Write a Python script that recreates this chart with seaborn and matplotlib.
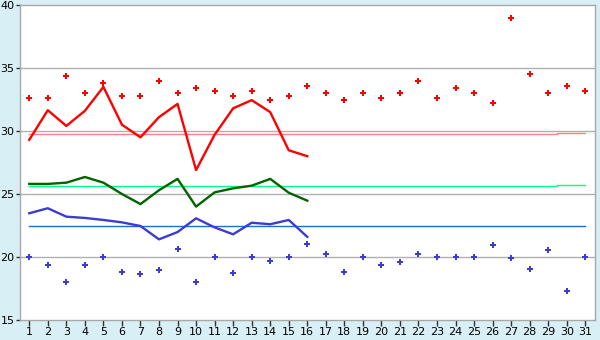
import matplotlib
matplotlib.use("Agg")
import matplotlib.pyplot as plt
import seaborn as sns
import pandas as pd
import numpy as np

days = list(range(1, 32))
tick_labels = [str(d) for d in days]

# scattered points (red = highs, blue = lows) for all 31 days
red_points = [32.6, 32.6, 34.4, 33.0, 33.8, 32.8, 32.8, 34.0, 33.0, 33.4,
              33.15, 32.75, 33.2, 32.5, 32.75, 33.55, 33.0, 32.5, 33.0, 32.6,
              33.0, 34.0, 32.6, 33.4, 33.0, 32.2, 39.0, 34.5, 33.0, 33.55, 33.2]
blue_points = [20.0, 19.35, 18.0, 19.4, 20.0, 18.8, 18.63, 18.94, 20.6, 18.0,
               20.0, 18.7, 20.0, 19.7, 20.0, 21.0, 20.2, 18.8, 20.0, 19.35,
               19.58, 20.2, 20.0, 20.0, 20.0, 20.93, 19.9, 19.02, 20.53, 17.28, 20.0]

# lines for days 1..16
line_days = list(range(1, 17))
red_line = [29.3, 31.65, 30.4, 31.6, 33.5, 30.5, 29.5, 31.1, 32.15, 26.9,
            29.7, 31.8, 32.45, 31.5, 28.47, 28.0]
green_line = [25.8, 25.8, 25.9, 26.35, 25.9, 25.0, 24.2, 25.3, 26.2, 24.0,
              25.13, 25.45, 25.66, 26.2, 25.1, 24.47]
blue_line = [23.47, 23.87, 23.2, 23.1, 22.94, 22.75, 22.46, 21.4, 21.98, 23.07,
             22.35, 21.8, 22.72, 22.6, 22.94, 21.6]

# normals (step lines)
red_normal = [29.8] * 29 + [29.88, 29.88]
green_normal = [25.63] * 29 + [25.7, 25.7]
blue_normal = [22.5] * 31

y_ticks = [15, 20, 25, 30, 35, 40]

bg = "#d9eff6"
fig = plt.figure(figsize=(6, 3.4), dpi=100, facecolor=bg)
ax = fig.add_axes([20/600, 20/340, (595.3-20)/600, 315/340])
ax.set_facecolor("white")

df_pts = pd.DataFrame({"day": days, "hi": red_points, "lo": blue_points,
                       "rn": red_normal, "gn": green_normal, "bn": blue_normal})
df_line = pd.DataFrame({"day": line_days, "r": red_line, "g": green_line, "b": blue_line})

for y in [20, 25, 30, 35]:
    ax.axhline(y, color="#b0b0b0", lw=1.0, zorder=0)

sns.lineplot(data=df_pts, x="day", y="rn", ax=ax, color="#ff8080", lw=1.0, drawstyle="steps-mid", zorder=1)
sns.lineplot(data=df_pts, x="day", y="gn", ax=ax, color="#00ff80", lw=1.0, drawstyle="steps-mid", zorder=1)
sns.lineplot(data=df_pts, x="day", y="bn", ax=ax, color="#1e6ed2", lw=1.0, drawstyle="steps-mid", zorder=1)

sns.lineplot(data=df_line, x="day", y="r", ax=ax, color="#ff0000", lw=1.7, zorder=3)
sns.lineplot(data=df_line, x="day", y="g", ax=ax, color="#006400", lw=1.7, zorder=3)
sns.lineplot(data=df_line, x="day", y="b", ax=ax, color="#3c3cd0", lw=1.7, zorder=3)

sns.scatterplot(data=df_pts, x="day", y="hi", ax=ax, color="#ff0000", marker="P", s=20, linewidth=0, zorder=4)
sns.scatterplot(data=df_pts, x="day", y="lo", ax=ax, color="#3c3cd0", marker="P", s=20, linewidth=0, zorder=4)

ax.set_xlim(0.5, 31.54)
ax.set_ylim(15, 40)
ax.set_xticks(days)
ax.set_xticklabels(tick_labels)
ax.set_yticks(y_ticks)
ax.set_xlabel("")
ax.set_ylabel("")
for s in ax.spines.values():
    s.set_color("#a8a8a8")
    s.set_linewidth(1.0)
ax.tick_params(axis="x", direction="out", length=4, width=1, color="#303030",
               labelsize=8, pad=1, labelcolor="black")
ax.tick_params(axis="y", direction="out", length=3, width=1, color="#303030",
               labelsize=8, pad=1, labelcolor="black")

fig.savefig("out.png", dpi=100, facecolor=bg)
